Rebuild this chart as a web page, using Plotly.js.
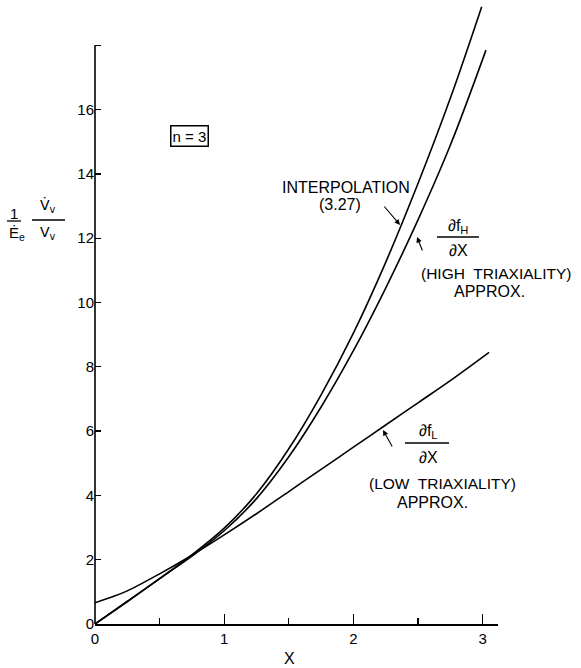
<!DOCTYPE html>
<html>
<head>
<meta charset="utf-8">
<script src="https://cdn.plot.ly/plotly-3.0.1.min.js"></script>
<style>html,body{margin:0;padding:0;background:#fff;}</style>
</head>
<body>
<div id="chart" style="width:581px;height:668px;"></div>
<script>
// Data
const interpX = [0, 0.25, 0.5, 0.75, 1.0, 1.25, 1.5, 1.75, 2.0, 2.25, 2.5, 2.75, 2.993];
const interpY = [0, 0.7, 1.41, 2.15, 2.98, 4.05, 5.45, 7.13, 9.05, 11.25, 13.7, 16.35, 19.2];
const highX = [0, 0.25, 0.5, 0.75, 1.0, 1.25, 1.5, 1.75, 2.0, 2.25, 2.5, 2.75, 3.026];
const highY = [0, 0.7, 1.41, 2.11, 2.9, 3.9, 5.2, 6.75, 8.5, 10.45, 12.57, 14.89, 17.85];
const lowX = [0, 0.125, 0.25, 0.5, 0.75, 1.0, 1.25, 1.5, 1.75, 2.0, 2.25, 2.5, 2.75, 3.05];
const lowY = [0.66, 0.83, 1.03, 1.56, 2.14, 2.77, 3.43, 4.12, 4.81, 5.5, 6.19, 6.88, 7.57, 8.45];
const yTickVals = [0, 2, 4, 6, 8, 10, 12, 14, 16, 18];
const yTickText = ['0', '2', '4', '6', '8', '10', '12', '14', '16', ''];
const xTickVals = [0, 1, 2, 3];
const xTickText = ['0', '1', '2', '3'];

// layout geometry (pixels)
const L = 95, R = 83, T = 1, B = 44, W = 581, H = 668;
const PW = W - L - R, PH = H - T - B;
const px = v => (v - L) / PW;
const py = v => (H - B - v) / PH;

const FONT = 'Liberation Sans, Arial, sans-serif';
const line = {color: 'black', width: 1.6, shape: 'spline', smoothing: 1};

const traces = [
  {x: interpX, y: interpY, mode: 'lines', line: line, hoverinfo: 'skip', name: 'Interpolation'},
  {x: highX, y: highY, mode: 'lines', line: line, hoverinfo: 'skip', name: 'High'},
  {x: lowX, y: lowY, mode: 'lines', line: line, hoverinfo: 'skip', name: 'Low'}
];

function txt(x, y, text, size, extra) {
  return Object.assign({xref: 'paper', yref: 'paper', x: px(x), y: py(y), text: text,
    showarrow: false, xanchor: 'center', yanchor: 'middle',
    font: {family: FONT, size: size || 15, color: 'black'}}, extra || {});
}
function bar(x0, x1, y) {
  return {type: 'line', xref: 'paper', yref: 'paper', x0: px(x0), x1: px(x1), y0: py(y), y1: py(y),
    line: {color: 'black', width: 1.3}};
}
function arrow(hx, hy, tx, ty) {
  return {xref: 'paper', yref: 'paper', x: px(hx), y: py(hy), ax: tx - hx, ay: ty - hy,
    axref: 'pixel', ayref: 'pixel', text: '', showarrow: true, arrowhead: 2, arrowsize: 1,
    arrowwidth: 1.1, arrowcolor: 'black', standoff: 0};
}

const annotations = [
  // n = 3 box
  txt(189, 136, 'n = 3', 15, {bordercolor: 'black', borderwidth: 1.5, borderpad: 1, bgcolor: 'white'}),
  // y-axis label
  txt(14, 213, '1', 15),
  txt(17, 233, '\u0116<sub>e</sub>', 15),
  txt(48, 206, 'V\u0307<sub>v</sub>', 14, {font: {family: 'DejaVu Sans, sans-serif', size: 14, color: 'black'}}),
  txt(48, 233, 'V<sub>v</sub>', 14, {font: {family: 'DejaVu Sans, sans-serif', size: 14, color: 'black'}}),
  // x-axis title
  txt(289, 658, 'X', 16),
  // Interpolation
  txt(346, 187, 'INTERPOLATION', 16),
  txt(340, 204, '(3.27)', 16),
  arrow(400, 225, 383, 205),
  // High triaxiality
  txt(458, 226, '\u2202f<sub>H</sub>', 16),
  txt(458, 250, '\u2202X', 16),
  txt(496, 273, '(HIGH  TRIAXIALITY)', 15.5),
  txt(489, 291, 'APPROX.', 16),
  arrow(417, 237, 423, 252),
  // Low triaxiality
  txt(428, 431, '\u2202f<sub>L</sub>', 16),
  txt(428, 457, '\u2202X', 16),
  txt(442, 483, '(LOW  TRIAXIALITY)', 15.5),
  txt(432, 502, 'APPROX.', 16),
  arrow(383, 430, 393, 448)
];

const shapes = [
  // y-axis line, stops at 18
  {type: 'line', xref: 'paper', yref: 'y', x0: 0, x1: 0, y0: 0, y1: 18, line: {color: 'black', width: 1.6}},
  bar(7, 21, 221),
  bar(32, 65, 220),
  bar(437, 479, 237),
  bar(405, 449, 443)
];

const layout = {
  width: W, height: H,
  margin: {l: L, r: R, t: T, b: B, pad: 0},
  paper_bgcolor: 'white', plot_bgcolor: 'white',
  showlegend: false,
  font: {family: FONT, size: 14, color: 'black'},
  xaxis: {
    range: [0, PW / 129.2], showgrid: false, zeroline: false,
    showline: true, linecolor: 'black', linewidth: 1.6,
    tickmode: 'array', tickvals: xTickVals, ticktext: xTickText,
    ticks: 'inside', ticklen: 10, tickwidth: 1.3, tickcolor: 'black',
    minor: {tickmode: 'linear', tick0: 0, dtick: 0.5, ticks: 'inside', ticklen: 6, tickwidth: 1.3, tickcolor: 'black', showgrid: false},
    tickfont: {family: FONT, size: 15, color: 'black'},
    fixedrange: true
  },
  yaxis: {
    range: [0, PH / 32.15], showgrid: false, zeroline: false, showline: false,
    tickmode: 'array', tickvals: yTickVals, ticktext: yTickText,
    ticks: 'inside', ticklen: 6, tickwidth: 1.3, tickcolor: 'black',
    tickfont: {family: FONT, size: 15, color: 'black'},
    fixedrange: true
  },
  annotations: annotations,
  shapes: shapes
};

Plotly.newPlot('chart', traces, layout, {staticPlot: true, displayModeBar: false});
</script>
</body>
</html>
